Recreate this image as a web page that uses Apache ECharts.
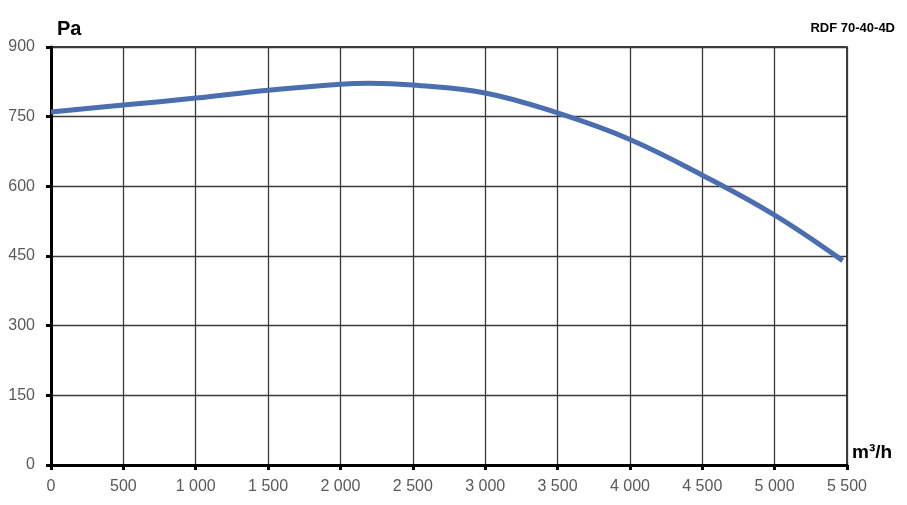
<!DOCTYPE html>
<html><head><meta charset="utf-8">
<script src="https://cdn.jsdelivr.net/npm/echarts@6/dist/echarts.min.js"></script>
<style>html,body{margin:0;padding:0;background:#fff}#c{width:907px;height:505px}</style>
</head><body><div id="c"></div>
<script>
const flow = [0, 500, 1000, 1500, 2000, 2200, 2500, 3000, 3500, 4000, 4500, 5000, 5470];
const pressure = [760, 775, 790, 807, 820, 822, 818, 801, 758, 701, 624, 538, 440];
const title = 'RDF 70-40-4D';
const yName = 'Pa';
const xName = 'm³/h';

const chart = echarts.init(document.getElementById('c'), null, {renderer: 'canvas'});
const fmt = v => { const s = String(v); return s.length > 3 ? s.slice(0, s.length - 3) + ' ' + s.slice(-3) : s; };
chart.setOption({
  animation: false,
  backgroundColor: '#fff',
  title: {text: title, right: 7, top: 17, textStyle: {fontFamily: 'Liberation Sans, Arial', fontSize: 13, fontWeight: 'bold', color: '#000'}},
  grid: {left: 51, right: 60, top: 47, bottom: 40, show: true, borderColor: '#000', borderWidth: 1.5},
  xAxis: {
    type: 'value', min: 0, max: 5500, interval: 500,
    name: xName, nameLocation: 'end', nameGap: 5,
    nameTextStyle: {fontFamily: 'Liberation Sans, Arial', fontSize: 19, fontWeight: 'bold', color: '#000', verticalAlign: 'bottom', padding: [0, 0, 3, 0]},
    axisLine: {show: true, lineStyle: {color: '#000', width: 3}},
    axisTick: {show: true, length: 5, lineStyle: {color: '#000', width: 3}},
    axisLabel: {fontFamily: 'Liberation Sans, Arial', fontSize: 16, color: '#595959', margin: 14, formatter: fmt},
    splitLine: {show: true, lineStyle: {color: '#3a3a3a', width: 1.3}}
  },
  yAxis: {
    type: 'value', min: 0, max: 900, interval: 150,
    name: yName, nameLocation: 'end', nameGap: 8,
    nameTextStyle: {fontFamily: 'Liberation Sans, Arial', fontSize: 20, fontWeight: 'bold', color: '#000', align: 'left', padding: [0, 0, 0, 6]},
    axisLine: {show: true, lineStyle: {color: '#000', width: 3}},
    axisTick: {show: true, length: 5, lineStyle: {color: '#000', width: 3}},
    axisLabel: {fontFamily: 'Liberation Sans, Arial', fontSize: 16, color: '#595959', margin: 16},
    splitLine: {show: true, lineStyle: {color: '#3a3a3a', width: 1.3}}
  },
  series: [{
    type: 'line', smooth: 0.4, symbol: 'none',
    data: flow.map((f, i) => [f, pressure[i]]),
    lineStyle: {color: '#4a6eb0', width: 5}
  }]
});
</script></body></html>
